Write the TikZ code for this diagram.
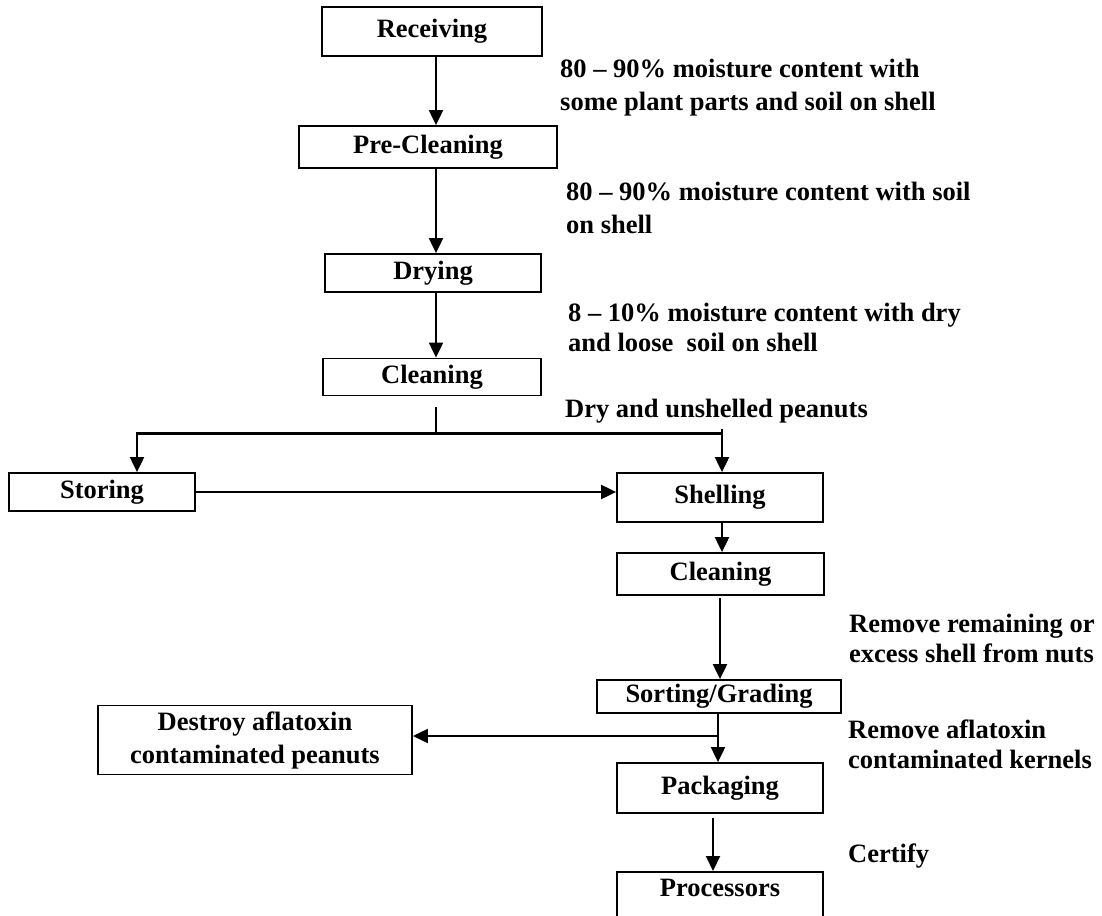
\documentclass[tikz,border=0pt]{standalone}
\usepackage{fontspec}
\setmainfont{Liberation Serif}
\usepackage{tikz}
\usetikzlibrary{positioning,arrows.meta}
\newcommand{\flowfont}{\fontsize{26.5pt}{33pt}\selectfont\bfseries}
\tikzset{
  flow-box/.style={draw=black,line width=1.8pt,rectangle,inner sep=2pt,
    align=center,font=\flowfont},
  flow-note/.style={anchor=north west,inner sep=0pt,align=left,font=\flowfont},
  arrow/.style={-{Triangle[length=15pt,width=14pt]},line width=2pt},
  link/.style={line width=2pt},
  bus/.style={line width=3pt},
}

\begin{document}
\begin{tikzpicture}[x=1pt,y=-1pt]
  \useasboundingbox (0,0) rectangle (1102,915);
  % main column
  \node[flow-box,minimum width=220pt,minimum height=49pt] (rec) at (432,31.5) {Receiving};
  \node[flow-box,minimum width=258pt,minimum height=42pt] (pre) at (428,147) {Pre-Cleaning};
  \node[flow-box,minimum width=216pt,minimum height=38pt] (dry) at (433,273) {Drying};
  \node[flow-box,minimum width=218pt,minimum height=37pt] (cln1) at (432,377) {Cleaning};
  \node[flow-box,minimum width=186pt,minimum height=38pt] (sto) at (102,492) {Storing};
  \node[flow-box,minimum width=206pt,minimum height=49pt] (she) at (720,497.5) {Shelling};
  \node[flow-box,minimum width=207pt,minimum height=42pt] (cln2) at (720.5,574) {Cleaning};
  \node[flow-box,minimum width=244pt,minimum height=33pt] (sor) at (719,696.5) {Sorting/Grading};
  \node[flow-box,minimum width=314pt,minimum height=69pt] (des) at (255,740) {Destroy aflatoxin\\contaminated peanuts};
  \node[flow-box,minimum width=206pt,minimum height=50pt] (pac) at (720,788) {Packaging};
  \node[flow-box,minimum width=206pt,text height=23pt,text depth=40pt,anchor=north] (pro) at (720,871) {Processors};

  % notes beside the arrows
  \node[flow-note] (n-rec) at (560,58.5) {80 – 90\% moisture content with\\some plant parts and soil on shell};
  \node[flow-note] (n-pre) at (566,181.5) {80 – 90\% moisture content with soil\\on shell};
  \node[flow-note,font=\fontsize{26.5pt}{30pt}\selectfont\bfseries] (n-dry) at (568,303) {8 – 10\% moisture content with dry\\and loose\ \ soil on shell};
  \node[flow-note] (n-cln) at (565,398.5) {Dry and unshelled peanuts};
  \node[flow-note,font=\fontsize{26.5pt}{30pt}\selectfont\bfseries] (n-cln2) at (849,613.5) {Remove remaining or\\excess shell from nuts};
  \node[flow-note,font=\fontsize{26.5pt}{30pt}\selectfont\bfseries] (n-sor) at (848,719.5) {Remove aflatoxin\\contaminated kernels};
  \node[flow-note] (n-pac) at (848,843.5) {Certify};

  % connectors
  \coordinate (spine) at (436,0);
  \draw[arrow] (rec.south -| spine) -- (pre.north -| spine);
  \draw[arrow] (pre.south -| spine) -- (dry.north -| spine);
  \draw[arrow] (dry.south -| spine) -- (cln1.north -| spine);

  \coordinate (stub) at (436,407);
  \coordinate (bar-l) at (137,433);
  \coordinate (bar-r) at (722,433);
  \draw[link] (stub) -- (stub |- bar-l);
  \draw[bus] ([xshift=-1pt]bar-l) -- (bar-r);
  \draw[arrow] (bar-l) -- (bar-l |- sto.north);
  \draw[arrow] ([yshift=4pt]bar-r) -- (bar-r |- she.north);
  \draw[arrow] (sto.east) -- (sto.east -| she.west);
  \draw[arrow] (she.south -| bar-r) -- (cln2.north -| bar-r);

  \coordinate (col) at (720,0);
  \draw[arrow] ([yshift=-2pt]cln2.south -| col) -- (sor.north -| col);
  \coordinate (tee) at (718,736);
  \draw[arrow] (sor.south -| tee) -- (pac.north -| tee);
  \draw[arrow] (tee) -- (tee -| des.east);
  \coordinate (col-low) at (713,0);
  \draw[arrow] ([yshift=-4pt]pac.south -| col-low) -- (pro.north -| col-low);
\end{tikzpicture}
\end{document}
